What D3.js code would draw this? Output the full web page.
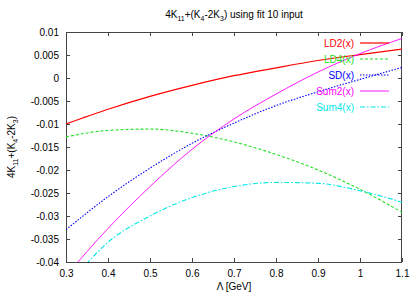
<!DOCTYPE html>
<html><head><meta charset="utf-8">
<script src="https://cdn.jsdelivr.net/npm/d3@7"></script>
<style>body{margin:0;background:#fff}svg{display:block}text{font-family:"Liberation Sans",Arial,Helvetica,sans-serif}</style>
</head><body>
<svg id="c" width="420" height="294"></svg>
<script>
const lambda = [0.3, 0.4, 0.5, 0.6, 0.7, 0.8, 0.9, 1.0, 1.1];
const LD2  = [-0.0100, -0.0068, -0.0040, -0.0016, 0.0005, 0.0022, 0.0038, 0.0051, 0.0063];
const LD4  = [-0.0128, -0.0114, -0.0111, -0.0120, -0.0139, -0.0166, -0.0200, -0.0242, -0.0292];
const SD   = [-0.0330, -0.0258, -0.0196, -0.0142, -0.0098, -0.0060, -0.0030, -0.0003, 0.0023];
const Sum2 = [-0.0430, -0.0327, -0.0236, -0.0155, -0.0089, -0.0035, 0.0013, 0.0053, 0.0086];
const Sum4 = [-0.0457, -0.0357, -0.0300, -0.0260, -0.0236, -0.0227, -0.0229, -0.0245, -0.0270];
const xTicks = [0.3, 0.4, 0.5, 0.6, 0.7, 0.8, 0.9, 1.0, 1.1];
const xTickLabels = ["0.3","0.4","0.5","0.6","0.7","0.8","0.9","1","1.1"];
const yTicks = [0.01, 0.005, 0, -0.005, -0.01, -0.015, -0.02, -0.025, -0.03, -0.035, -0.04];
const yTickLabels = ["0.01","0.005","0","-0.005","-0.01","-0.015","-0.02","-0.025","-0.03","-0.035","-0.04"];
const seriesNames = ["LD2(x)","LD4(x)","SD(x)","Sum2(x)","Sum4(x)"];
const seriesData = [LD2, LD4, SD, Sum2, Sum4];
const colors = ["#ff0000","#22e022","#0000ff","#ff00ff","#00e8e8"];
const dashes = [null, "3,2", "1.5,1.5", null, "5,2,1.5,2"];
const widths = [1.2, 1.1, 1.1, 0.9, 1.1];

const svg = d3.select("#c");
const L = 66, R = 402, T = 32, B = 262;
const x = d3.scaleLinear().domain([0.3, 1.1]).range([L, R]);
const y = d3.scaleLinear().domain([-0.04, 0.01]).range([B, T]);

svg.append("defs").append("clipPath").attr("id","clip")
  .append("rect").attr("x",L).attr("y",T).attr("width",R-L).attr("height",B-T);

const tickLen = 4;
const axB = d3.axisBottom(x).tickValues(xTicks).tickSize(-tickLen).tickPadding(8)
  .tickFormat((d,i)=>xTickLabels[i]);
const axT = d3.axisTop(x).tickValues(xTicks).tickSize(-tickLen).tickFormat("");
const axLft = d3.axisLeft(y).tickValues(yTicks).tickSize(-tickLen).tickPadding(7)
  .tickFormat((d,i)=>yTickLabels[i]);
const axRt = d3.axisRight(y).tickValues(yTicks).tickSize(-tickLen).tickFormat("");

function style(g){
  g.select(".domain").remove();
  g.selectAll("line").attr("stroke","#444").attr("stroke-width",1);
  g.selectAll("text").attr("font-size",10).attr("fill","#000")
   .attr("font-family",'"Liberation Sans",Arial,sans-serif');
}
svg.append("g").attr("transform",`translate(0,${B})`).call(axB).call(style);
svg.append("g").attr("transform",`translate(0,${T})`).call(axT).call(style);
svg.append("g").attr("transform",`translate(${L},0)`).call(axLft).call(style);
svg.append("g").attr("transform",`translate(${R},0)`).call(axRt).call(style);

svg.append("rect").attr("x",L+0.5).attr("y",T+0.5).attr("width",R-L-1).attr("height",B-T)
  .attr("fill","none").attr("stroke","#444").attr("stroke-width",1);

const line = d3.line().x((d,i)=>x(lambda[i])).y(d=>y(d)).curve(d3.curveMonotoneX);
const plot = svg.append("g").attr("clip-path","url(#clip)");
seriesData.forEach((s,k)=>{
  plot.append("path").datum(s).attr("d",line).attr("fill","none")
    .attr("stroke",colors[k]).attr("stroke-width",widths[k])
    .attr("stroke-dasharray",dashes[k]);
});

const leg = svg.append("g");
seriesNames.forEach((n,k)=>{
  const yy = 43 + 16*k;
  leg.append("text").attr("x",354).attr("y",yy+3.5).attr("text-anchor","end")
    .attr("font-size",10).attr("fill",colors[k]).text(n);
  leg.append("line").attr("x1",360).attr("x2",389).attr("y1",yy).attr("y2",yy)
    .attr("stroke",colors[k]).attr("stroke-width",widths[k]).attr("stroke-dasharray",dashes[k]);
});

function subText(sel, parts){
  let shift = 0;
  parts.forEach(p=>{
    const ts = sel.append("tspan").text(p.t);
    if (p.sub){ ts.attr("font-size",7).attr("dy",3 - shift); shift = 3; }
    else { ts.attr("font-size",10).attr("dy",0 - shift); shift = 0; }
  });
}
const parts = [{t:"4K"},{t:"11",sub:1},{t:"+(K"},{t:"4",sub:1},{t:"-2K"},{t:"3",sub:1},{t:")"}];
const title = svg.append("text").attr("x",234).attr("y",18).attr("text-anchor","middle").attr("font-size",10);
subText(title, parts.concat([{t:" using fit 10 input"}]));

const yl = svg.append("text").attr("transform","translate(15,147) rotate(-90)")
  .attr("text-anchor","middle").attr("font-size",10);
subText(yl, parts);

svg.append("text").attr("x",234).attr("y",290).attr("text-anchor","middle").attr("font-size",10)
  .text("\u039b [GeV]");
</script>
</body></html>
